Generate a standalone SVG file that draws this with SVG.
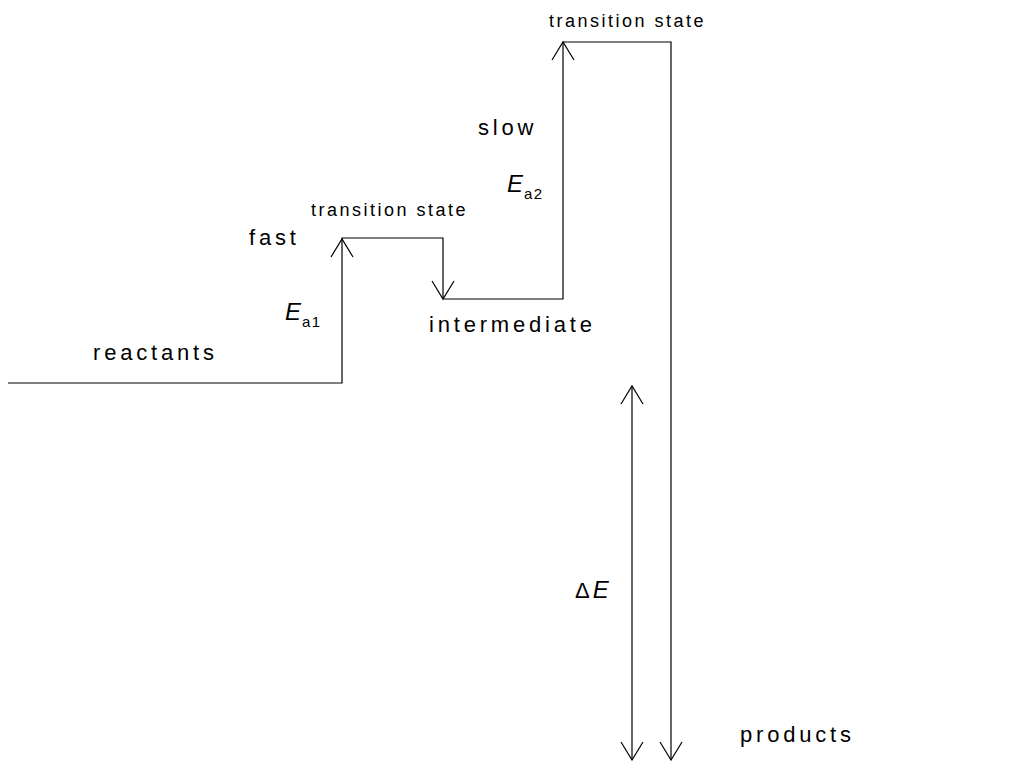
<svg xmlns="http://www.w3.org/2000/svg" width="1009" height="761" viewBox="0 0 1009 761">
<style>
text{font-family:"Liberation Sans",Arial,sans-serif;fill:#000}
.lbl{font-size:22px;letter-spacing:3.8px}
.ts{font-size:18px;letter-spacing:2.5px}
.E{font-size:24px;font-style:italic}
.sub{font-size:15px;letter-spacing:1.5px}
.ln{stroke:#000;stroke-width:1.2;fill:none}
.ah{stroke:#000;stroke-width:1.2;fill:none}
</style>
<rect width="1009" height="761" fill="#fff"/>
<g id="connectors">
<path class="ln" d="M8,383 H342 V238 H443 V299"/>
<path class="ln" d="M443,299 H563 V42 H671 V760"/>
<path class="ln" d="M632,386 V760"/>
<path class="ah" d="M331,257 L342,239 L353,257"/>
<path class="ah" d="M432,281 L443,299 L454,281"/>
<path class="ah" d="M552,60 L563,42 L574,60"/>
<path class="ah" d="M621,404 L632,386 L643,404"/>
<path class="ah" d="M621,742 L632,760 L643,742"/>
<path class="ah" d="M660,742 L671,760 L682,742"/>
</g>
<g id="reactants"><text class="lbl" x="93" y="360">reactants</text></g>
<g id="ts1"><text class="ts" x="311" y="216">transition state</text></g>
<g id="fast"><text class="lbl" x="249" y="245">fast</text></g>
<g id="ea1"><text class="E" x="285" y="320">E</text><text class="sub" x="302" y="327">a1</text></g>
<g id="intermediate"><text class="lbl" x="429" y="332">intermediate</text></g>
<g id="ts2"><text class="ts" x="549" y="27">transition state</text></g>
<g id="slow"><text class="lbl" x="478" y="135">slow</text></g>
<g id="ea2"><text class="E" x="507" y="192">E</text><text class="sub" x="524" y="199">a2</text></g>
<g id="deltaE"><text x="575" y="598" style="font-size:22px">Δ<tspan class="E" dx="3">E</tspan></text></g>
<g id="products"><text class="lbl" x="740" y="742">products</text></g>
</svg>
